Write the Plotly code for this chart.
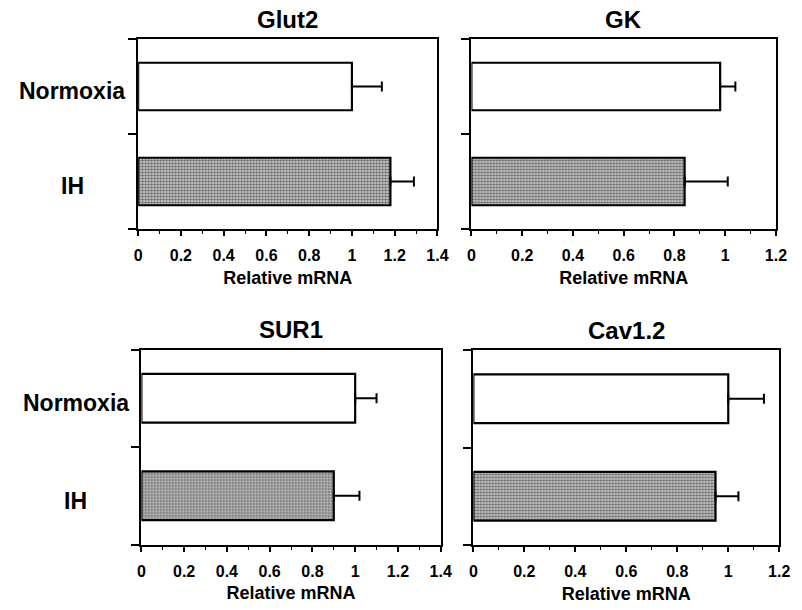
import plotly.graph_objects as go

genes = ["Glut2", "GK", "SUR1", "Cav1.2"]
groups = ["IH", "Normoxia"]
normoxia_vals = [1.00, 0.98, 1.00, 1.00]
normoxia_err = [0.14, 0.06, 0.10, 0.14]
ih_vals = [1.18, 0.84, 0.90, 0.95]
ih_err = [0.11, 0.17, 0.12, 0.09]
x_max = [1.4, 1.2, 1.4, 1.2]
x_ticks = [[0, 0.2, 0.4, 0.6, 0.8, 1, 1.2, 1.4],
           [0, 0.2, 0.4, 0.6, 0.8, 1, 1.2],
           [0, 0.2, 0.4, 0.6, 0.8, 1, 1.2, 1.4],
           [0, 0.2, 0.4, 0.6, 0.8, 1, 1.2]]
x_title = "Relative mRNA"

W, H = 802, 610
# panel boxes in pixels: (left, right, top, bottom)
boxes = [(136.7, 441.7, 39, 229), (476.3, 786.7, 39, 229),
         (140, 445, 349.5, 544.5), (478.3, 790, 350, 545)]

FONT = "Liberation Sans, Arial, sans-serif"
fig = go.Figure()

for i, g in enumerate(genes):
    l, r, t, b = boxes[i]
    xa = "x" if i == 0 else f"x{i+1}"
    ya = "y" if i == 0 else f"y{i+1}"
    # IH bar (textured)
    fig.add_trace(go.Bar(
        x=[ih_vals[i]], y=[0], orientation="h", width=0.5,
        marker=dict(color="#ffffff", line=dict(color="black", width=2.2),
                    pattern=dict(shape=".", fgcolor="#000000", bgcolor="#d4d4d4",
                                 size=3, solidity=0.5)),
        error_x=dict(type="data", array=[ih_err[i]], arrayminus=[0], symmetric=False,
                     color="black", thickness=2, width=5),
        xaxis=xa, yaxis=ya, showlegend=False))
    # Normoxia bar (white)
    fig.add_trace(go.Bar(
        x=[normoxia_vals[i]], y=[1], orientation="h", width=0.5,
        marker=dict(color="#ffffff", line=dict(color="black", width=2.2)),
        error_x=dict(type="data", array=[normoxia_err[i]], arrayminus=[0], symmetric=False,
                     color="black", thickness=2, width=5),
        xaxis=xa, yaxis=ya, showlegend=False))

    xk = "xaxis" if i == 0 else f"xaxis{i+1}"
    yk = "yaxis" if i == 0 else f"yaxis{i+1}"
    fig.layout[xk] = dict(
        domain=[l / W, r / W], anchor=ya, range=[0, x_max[i]],
        tickvals=x_ticks[i], ticktext=[f"<b>{v:g}</b>" for v in x_ticks[i]],
        ticks="outside", ticklen=5, tickwidth=1.6, tickcolor="black",
        ticklabelstandoff=6,
        minor=dict(dtick=0.1, ticks="outside", ticklen=3, tickwidth=1.3, tickcolor="black", showgrid=False),
        showline=True, linecolor="black", linewidth=2, mirror=True,
        showgrid=False, zeroline=False,
        tickfont=dict(family=FONT, size=16, color="black"),
        title=dict(text=f"<b>{x_title}</b>", font=dict(family=FONT, size=18, color="black"), standoff=8),
        fixedrange=True)
    fig.layout[yk] = dict(
        domain=[1 - b / H, 1 - t / H], anchor=xa, range=[-0.5, 1.5],
        tickvals=[-0.5, 0.5, 1.5], ticktext=["", "", ""], ticks="outside", ticklen=8,
        tickwidth=1.6, tickcolor="black",
        showline=True, linecolor="black", linewidth=2, mirror=True,
        showgrid=False, zeroline=False, fixedrange=True)
    # title
    fig.add_annotation(text=f"<b>{g}</b>", x=(l + r) / 2 / W, y=1 - (t - 20) / H,
                       xref="paper", yref="paper", showarrow=False,
                       xanchor="center", yanchor="middle",
                       font=dict(family=FONT, size=24, color="black"))
    # category labels for left column
    if i in (0, 2):
        for grp, yv in zip(groups, [0, 1]):
            fig.add_annotation(text=f"<b>{grp}</b>", x=(l - 67) / W, y=yv - 0.05,
                               xref="paper", yref=ya, showarrow=False,
                               xanchor="center", yanchor="middle",
                               font=dict(family=FONT, size=23, color="black"))

fig.update_layout(width=W, height=H, margin=dict(l=0, r=0, t=0, b=0),
                  paper_bgcolor="white", plot_bgcolor="white", barmode="overlay",
                  font=dict(family=FONT, color="black"))
fig.write_html("out.html")
